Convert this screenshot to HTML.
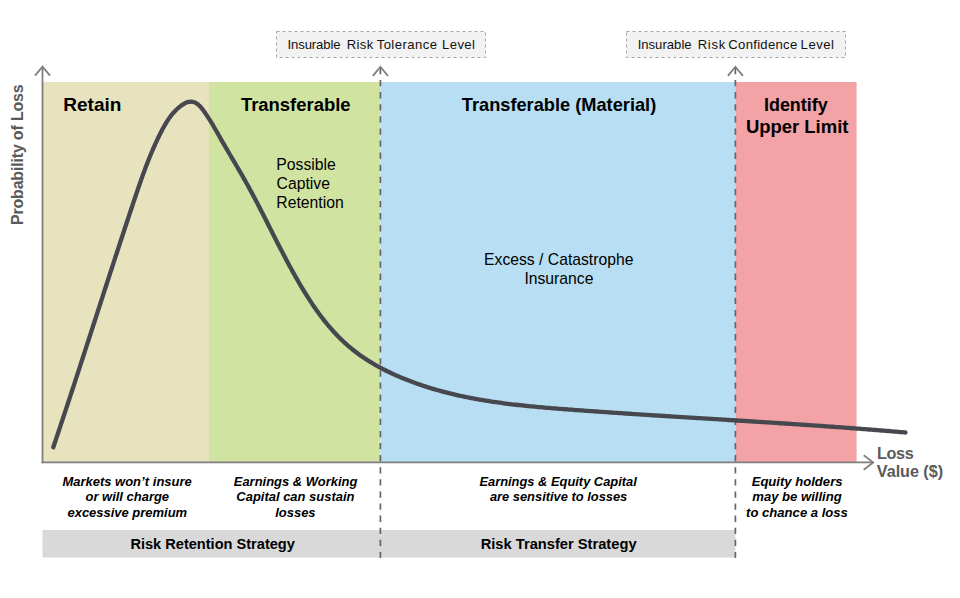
<!DOCTYPE html>
<html><head><meta charset="utf-8">
<style>
html,body{margin:0;padding:0;background:#fff;}
svg{display:block;font-family:"Liberation Sans",sans-serif;}
.b18{font-weight:bold;font-size:18px;fill:#000;}
.r15{font-size:15.7px;fill:#000;}
.bi{font-weight:bold;font-style:italic;font-size:13px;fill:#000;}
.b14{font-weight:bold;font-size:14.5px;fill:#000;}
.g15{font-weight:bold;font-size:15.5px;fill:#5a5a5a;}
.r13{font-size:13px;fill:#111;}
</style></head><body>
<svg width="960" height="598" viewBox="0 0 960 598">
<rect x="0" y="0" width="960" height="598" fill="#fff"/>
<rect x="43" y="82" width="166" height="380" fill="#e7e3bf"/>
<rect x="209" y="82" width="171.4" height="380" fill="#d0e3a1"/>
<rect x="380.4" y="82" width="355" height="380" fill="#b7def3"/>
<rect x="735.4" y="82" width="121.2" height="380" fill="#f3a2a6"/>
<rect x="42.5" y="530" width="692.9" height="27.5" fill="#d9d9d9"/>
<rect x="276.5" y="31.5" width="209" height="26" fill="#f2f2f2" stroke="#a6a6a6" stroke-width="1" stroke-dasharray="3 3"/>
<rect x="626.5" y="31.5" width="219" height="26" fill="#f2f2f2" stroke="#a6a6a6" stroke-width="1" stroke-dasharray="3 3"/>
<line x1="380.4" y1="67.9" x2="380.4" y2="558" stroke="#666666" stroke-width="1.7" stroke-dasharray="6.3 5.8"/>
<line x1="735.4" y1="67.9" x2="735.4" y2="558" stroke="#666666" stroke-width="1.7" stroke-dasharray="6.3 5.8"/>
<polyline points="372.9,75.9 380.4,66.8 387.9,75.9" fill="none" stroke="#7f7f7f" stroke-width="1.8"/>
<polyline points="727.9,75.9 735.4,66.8 742.9,75.9" fill="none" stroke="#7f7f7f" stroke-width="1.8"/>
<line x1="42.5" y1="66.5" x2="42.5" y2="463.3" stroke="#7f7f7f" stroke-width="1.8"/>
<line x1="41.6" y1="462.4" x2="873" y2="462.4" stroke="#7f7f7f" stroke-width="1.8"/>
<polyline points="35,75.6 42.5,66.6 50,75.6" fill="none" stroke="#7f7f7f" stroke-width="1.8"/>
<polyline points="863.7,455.2 873.2,462.4 863.7,469.8" fill="none" stroke="#7f7f7f" stroke-width="1.8"/>
<path d="M53.30,447.20 L53.96,445.24 L54.62,443.28 L55.28,441.32 L55.94,439.36 L56.59,437.40 L57.25,435.44 L57.91,433.48 L58.56,431.51 L59.22,429.55 L59.87,427.59 L60.53,425.63 L61.18,423.66 L61.83,421.70 L62.48,419.74 L63.13,417.77 L63.79,415.81 L64.44,413.84 L65.09,411.88 L65.74,409.91 L66.38,407.94 L67.03,405.98 L67.68,404.01 L68.33,402.05 L68.98,400.08 L69.62,398.11 L70.27,396.14 L70.91,394.18 L71.56,392.21 L72.20,390.24 L72.85,388.27 L73.49,386.30 L74.14,384.33 L74.78,382.36 L75.42,380.39 L76.07,378.43 L76.71,376.46 L77.35,374.49 L77.99,372.52 L78.63,370.55 L79.28,368.58 L79.92,366.60 L80.56,364.63 L81.20,362.66 L81.84,360.69 L82.48,358.72 L83.12,356.75 L83.76,354.78 L84.40,352.81 L85.04,350.84 L85.68,348.86 L86.31,346.89 L86.95,344.92 L87.59,342.95 L88.23,340.98 L88.87,339.00 L89.51,337.03 L90.14,335.06 L90.78,333.09 L91.42,331.12 L92.06,329.14 L92.70,327.17 L93.33,325.20 L93.97,323.23 L94.61,321.25 L95.25,319.28 L95.88,317.31 L96.52,315.34 L97.16,313.36 L97.80,311.39 L98.44,309.42 L99.07,307.45 L99.71,305.47 L100.35,303.50 L100.99,301.53 L101.63,299.56 L102.26,297.59 L102.90,295.61 L103.54,293.64 L104.18,291.67 L104.82,289.70 L105.46,287.73 L106.09,285.76 L106.73,283.78 L107.37,281.81 L108.01,279.84 L108.65,277.87 L109.29,275.90 L109.93,273.93 L110.57,271.96 L111.21,269.99 L111.85,268.02 L112.49,266.05 L113.14,264.08 L113.78,262.11 L114.42,260.14 L115.06,258.17 L115.70,256.20 L116.35,254.23 L116.99,252.26 L117.63,250.30 L118.28,248.33 L118.92,246.36 L119.57,244.39 L120.21,242.42 L120.86,240.46 L121.50,238.49 L122.15,236.52 L122.80,234.56 L123.44,232.59 L124.09,230.62 L124.74,228.66 L125.39,226.69 L126.04,224.73 L126.69,222.76 L127.34,220.80 L127.99,218.83 L128.64,216.87 L129.29,214.91 L129.94,212.94 L130.59,210.98 L131.25,209.02 L131.90,207.06 L132.55,205.10 L133.21,203.13 L133.87,201.17 L134.52,199.21 L135.18,197.25 L135.84,195.29 L136.50,193.34 L137.16,191.38 L137.82,189.42 L138.49,187.47 L139.16,185.51 L139.84,183.56 L140.52,181.61 L141.20,179.66 L141.89,177.71 L142.59,175.77 L143.29,173.82 L143.99,171.88 L144.71,169.95 L145.43,168.01 L146.16,166.08 L146.90,164.15 L147.64,162.22 L148.40,160.30 L149.16,158.38 L149.94,156.46 L150.72,154.55 L151.52,152.64 L152.33,150.74 L153.15,148.84 L153.98,146.94 L154.82,145.05 L155.68,143.17 L156.55,141.28 L157.43,139.41 L158.33,137.54 L159.24,135.67 L160.17,133.81 L161.11,131.95 L162.07,130.10 L163.05,128.26 L164.06,126.43 L165.09,124.62 L166.15,122.83 L167.25,121.06 L168.39,119.32 L169.58,117.62 L170.81,115.95 L172.10,114.32 L173.45,112.73 L174.86,111.20 L176.34,109.71 L177.89,108.28 L179.51,106.91 L181.22,105.61 L183.00,104.38 L184.85,103.29 L186.75,102.41 L188.66,101.80 L191.55,101.57 L194.36,102.25 L196.17,103.15 L197.88,104.33 L199.48,105.74 L200.95,107.33 L202.32,109.04 L203.62,110.80 L204.88,112.57 L206.10,114.35 L207.28,116.12 L208.44,117.89 L209.56,119.65 L210.66,121.42 L211.74,123.19 L212.80,124.95 L213.84,126.72 L214.87,128.48 L215.88,130.25 L216.89,132.01 L217.89,133.78 L218.89,135.54 L219.89,137.31 L220.89,139.07 L221.90,140.84 L222.92,142.61 L223.94,144.38 L224.97,146.15 L226.00,147.92 L227.04,149.69 L228.08,151.47 L229.13,153.24 L230.18,155.02 L231.23,156.80 L232.28,158.58 L233.34,160.36 L234.39,162.15 L235.45,163.93 L236.50,165.72 L237.55,167.51 L238.60,169.31 L239.65,171.10 L240.69,172.90 L241.73,174.70 L242.76,176.51 L243.79,178.31 L244.82,180.12 L245.83,181.94 L246.85,183.75 L247.85,185.57 L248.85,187.39 L249.84,189.22 L250.83,191.04 L251.82,192.87 L252.79,194.70 L253.77,196.53 L254.74,198.37 L255.71,200.20 L256.67,202.04 L257.63,203.88 L258.58,205.72 L259.54,207.56 L260.49,209.41 L261.43,211.25 L262.38,213.10 L263.32,214.94 L264.26,216.79 L265.20,218.64 L266.14,220.48 L267.08,222.33 L268.01,224.18 L268.95,226.03 L269.89,227.88 L270.82,229.73 L271.76,231.58 L272.69,233.43 L273.63,235.27 L274.57,237.12 L275.51,238.97 L276.45,240.81 L277.39,242.66 L278.33,244.50 L279.28,246.34 L280.23,248.19 L281.18,250.03 L282.13,251.86 L283.09,253.70 L284.05,255.54 L285.01,257.37 L285.98,259.20 L286.95,261.03 L287.93,262.86 L288.91,264.68 L289.89,266.50 L290.88,268.32 L291.88,270.14 L292.88,271.95 L293.89,273.76 L294.90,275.57 L295.92,277.38 L296.95,279.18 L297.98,280.98 L299.02,282.77 L300.07,284.56 L301.12,286.35 L302.18,288.13 L303.25,289.90 L304.33,291.68 L305.42,293.44 L306.52,295.20 L307.63,296.95 L308.74,298.69 L309.87,300.43 L311.01,302.16 L312.15,303.88 L313.31,305.59 L314.48,307.29 L315.66,308.99 L316.85,310.67 L318.05,312.35 L319.27,314.01 L320.50,315.66 L321.74,317.30 L322.99,318.93 L324.26,320.55 L325.54,322.15 L326.84,323.74 L328.15,325.32 L329.47,326.89 L330.81,328.44 L332.16,329.97 L333.53,331.49 L334.92,333.00 L336.32,334.49 L337.73,335.97 L339.17,337.42 L340.62,338.87 L342.08,340.29 L343.57,341.70 L345.07,343.09 L346.59,344.46 L348.13,345.81 L349.69,347.14 L351.26,348.46 L352.86,349.75 L354.47,351.02 L356.11,352.28 L357.76,353.51 L359.43,354.73 L361.11,355.92 L362.82,357.10 L364.54,358.25 L366.27,359.39 L368.02,360.51 L369.79,361.61 L371.57,362.69 L373.36,363.76 L375.17,364.80 L376.98,365.83 L378.81,366.84 L380.66,367.84 L382.51,368.81 L384.38,369.77 L386.25,370.72 L388.13,371.64 L390.03,372.55 L391.93,373.45 L393.84,374.33 L395.75,375.19 L397.68,376.04 L399.61,376.87 L401.54,377.68 L403.48,378.48 L405.43,379.27 L407.38,380.04 L409.33,380.80 L411.29,381.54 L413.25,382.27 L415.21,382.98 L417.18,383.69 L419.15,384.37 L421.12,385.05 L423.09,385.71 L425.06,386.36 L427.04,386.99 L429.02,387.61 L431.00,388.22 L432.99,388.82 L434.98,389.41 L436.97,389.98 L438.96,390.54 L440.95,391.09 L442.95,391.63 L444.95,392.15 L446.95,392.67 L448.95,393.17 L450.95,393.67 L452.96,394.15 L454.97,394.62 L456.98,395.09 L458.99,395.54 L461.01,395.98 L463.02,396.41 L465.04,396.84 L467.06,397.25 L469.08,397.65 L471.10,398.05 L473.13,398.43 L475.16,398.81 L477.18,399.18 L479.21,399.54 L481.24,399.89 L483.28,400.23 L485.31,400.57 L487.35,400.90 L489.38,401.22 L491.42,401.53 L493.46,401.83 L495.50,402.13 L497.55,402.42 L499.59,402.71 L501.63,402.98 L503.68,403.26 L505.73,403.52 L507.78,403.78 L509.83,404.03 L511.88,404.28 L513.93,404.52 L515.98,404.76 L518.03,404.99 L520.09,405.22 L522.14,405.44 L524.20,405.65 L526.25,405.87 L528.31,406.07 L530.37,406.28 L532.43,406.48 L534.49,406.67 L536.55,406.86 L538.61,407.05 L540.67,407.23 L542.73,407.42 L544.80,407.59 L546.86,407.77 L548.92,407.94 L550.99,408.11 L553.05,408.28 L555.12,408.45 L557.18,408.61 L559.25,408.77 L561.31,408.93 L563.38,409.09 L565.44,409.25 L567.51,409.40 L569.58,409.56 L571.64,409.71 L573.71,409.87 L575.77,410.02 L577.84,410.17 L579.91,410.32 L581.97,410.47 L584.04,410.62 L586.11,410.77 L588.17,410.92 L590.24,411.07 L592.31,411.22 L594.37,411.36 L596.44,411.51 L598.51,411.65 L600.57,411.80 L602.64,411.94 L604.71,412.08 L606.78,412.23 L608.84,412.37 L610.91,412.51 L612.98,412.65 L615.05,412.79 L617.11,412.93 L619.18,413.07 L621.25,413.21 L623.31,413.34 L625.38,413.48 L627.45,413.62 L629.52,413.75 L631.59,413.89 L633.65,414.03 L635.72,414.16 L637.79,414.30 L639.86,414.43 L641.92,414.56 L643.99,414.70 L646.06,414.83 L648.13,414.96 L650.20,415.10 L652.26,415.23 L654.33,415.36 L656.40,415.49 L658.47,415.62 L660.54,415.75 L662.60,415.88 L664.67,416.01 L666.74,416.14 L668.81,416.27 L670.88,416.40 L672.94,416.53 L675.01,416.66 L677.08,416.79 L679.15,416.92 L681.22,417.05 L683.29,417.17 L685.35,417.30 L687.42,417.43 L689.49,417.56 L691.56,417.69 L693.63,417.81 L695.69,417.94 L697.76,418.07 L699.83,418.20 L701.90,418.32 L703.97,418.45 L706.04,418.58 L708.10,418.70 L710.17,418.83 L712.24,418.96 L714.31,419.09 L716.38,419.21 L718.44,419.34 L720.51,419.47 L722.58,419.59 L724.65,419.72 L726.72,419.85 L728.78,419.98 L730.85,420.10 L732.92,420.23 L734.99,420.36 L737.06,420.49 L739.12,420.62 L741.19,420.74 L743.26,420.87 L745.33,421.00 L747.40,421.13 L749.46,421.26 L751.53,421.39 L753.60,421.52 L755.67,421.65 L757.73,421.78 L759.80,421.91 L761.87,422.04 L763.94,422.17 L766.00,422.30 L768.07,422.43 L770.14,422.57 L772.21,422.70 L774.27,422.83 L776.34,422.96 L778.41,423.10 L780.48,423.23 L782.54,423.36 L784.61,423.50 L786.68,423.63 L788.74,423.77 L790.81,423.90 L792.88,424.04 L794.94,424.18 L797.01,424.31 L799.08,424.45 L801.14,424.59 L803.21,424.73 L805.28,424.87 L807.34,425.01 L809.41,425.15 L811.48,425.29 L813.54,425.43 L815.61,425.57 L817.67,425.72 L819.74,425.86 L821.81,426.00 L823.87,426.15 L825.94,426.29 L828.00,426.44 L830.07,426.59 L832.13,426.73 L834.20,426.88 L836.26,427.03 L838.33,427.18 L840.40,427.33 L842.46,427.48 L844.53,427.63 L846.59,427.78 L848.66,427.94 L850.72,428.09 L852.78,428.25 L854.85,428.40 L856.91,428.56 L858.98,428.71 L861.04,428.87 L863.11,429.03 L865.17,429.19 L867.23,429.35 L869.30,429.51 L871.36,429.68 L873.43,429.84 L875.49,430.00 L877.55,430.17 L879.62,430.34 L881.68,430.50 L883.74,430.67 L885.81,430.84 L887.87,431.01 L889.93,431.18 L891.99,431.35 L894.06,431.53 L896.12,431.70 L898.18,431.88 L900.24,432.05 L902.31,432.23 L904.37,432.41 L905.40,432.50" fill="none" stroke="#47474f" stroke-width="4.3" stroke-linecap="round" stroke-linejoin="round"/>
<text id="bx1a" class="r13" x="287.48" y="48.8" style="font-size:13.1px;letter-spacing:-0.097px">Insurable</text>
<text id="bx1b" class="r13" x="346.81" y="48.8" style="font-size:13.1px;letter-spacing:0.344px">Risk</text>
<text id="bx1c" class="r13" x="376.65" y="48.8" style="font-size:13.1px;letter-spacing:0.451px">Tolerance</text>
<text id="bx1d" class="r13" x="442.12" y="48.8" style="font-size:13.1px;letter-spacing:0.354px">Level</text>
<text id="bx2a" class="r13" x="637.63" y="48.8" style="font-size:13.1px;letter-spacing:0.011px">Insurable</text>
<text id="bx2b" class="r13" x="697.75" y="48.8" style="font-size:13.1px;letter-spacing:0.667px">Risk</text>
<text id="bx2c" class="r13" x="728.32" y="48.8" style="font-size:13.1px;letter-spacing:0.297px">Confidence</text>
<text id="bx2d" class="r13" x="800.59" y="48.8" style="font-size:13.1px;letter-spacing:0.515px">Level</text>
<text id="retain" class="b18" x="63.31" y="110.8" style="font-size:19.05px">Retain</text>
<text id="transf" class="b18" x="295.76" y="110.8" text-anchor="middle" style="font-size:18.47px">Transferable</text>
<text id="transm" class="b18" x="559.03" y="111.1" text-anchor="middle" style="font-size:18.23px">Transferable (Material)</text>
<text id="ident" class="b18" x="795.82" y="110.8" text-anchor="middle" style="font-size:17.9px">Identify</text>
<text id="upper" class="b18" x="797.17" y="133.2" text-anchor="middle" style="font-size:18.47px">Upper Limit</text>
<text id="poss" class="r15" x="276.33" y="169.6" style="font-size:15.74px">Possible</text>
<text id="capt" class="r15" x="276.55" y="188.6" style="font-size:15.74px">Captive</text>
<text id="rete" class="r15" x="276.33" y="207.7" style="font-size:15.74px">Retention</text>
<text id="exc" class="r15" x="558.75" y="264.8" text-anchor="middle" style="font-size:15.72px">Excess / Catastrophe</text>
<text id="ins" class="r15" x="558.9" y="284.1" text-anchor="middle" style="font-size:15.72px">Insurance</text>
<text id="prob" class="g15" transform="translate(23.0,154.8) rotate(-90)" text-anchor="middle" style="font-size:16px;letter-spacing:-0.18px">Probability of Loss</text>
<text id="loss" class="g15" x="876.94" y="458.6" style="font-size:16.2px;letter-spacing:-0.35px">Loss</text>
<text id="value" class="g15" x="876.86" y="477.4" style="font-size:16.2px;letter-spacing:-0.05px">Value ($)</text>
<text id="m1" class="bi" x="127.09" y="485.9" text-anchor="middle" style="font-size:12.98px">Markets won’t insure</text>
<text id="m2" class="bi" x="127.3" y="501.4" text-anchor="middle" style="font-size:12.98px">or will charge</text>
<text id="m3" class="bi" x="127.3" y="516.9" text-anchor="middle" style="font-size:12.98px">excessive premium</text>
<text id="w1" class="bi" x="295.59" y="485.9" text-anchor="middle" style="font-size:12.98px">Earnings &amp; Working</text>
<text id="w2" class="bi" x="295.4" y="501.4" text-anchor="middle" style="font-size:12.98px">Capital can sustain</text>
<text id="w3" class="bi" x="295.4" y="516.9" text-anchor="middle" style="font-size:12.98px">losses</text>
<text id="e1" class="bi" x="558.11" y="485.9" text-anchor="middle" style="font-size:12.89px">Earnings &amp; Equity Capital</text>
<text id="e2" class="bi" x="558.6" y="501.4" text-anchor="middle" style="font-size:12.89px">are sensitive to losses</text>
<text id="h1" class="bi" x="797.09" y="485.9" text-anchor="middle" style="font-size:13.09px">Equity holders</text>
<text id="h2" class="bi" x="797" y="501.4" text-anchor="middle" style="font-size:13.09px">may be willing</text>
<text id="h3" class="bi" x="797" y="516.9" text-anchor="middle" style="font-size:13.09px">to chance a loss</text>
<text id="rrs" class="b14" x="212.65" y="549.4" text-anchor="middle" style="font-size:14.59px">Risk Retention Strategy</text>
<text id="rts" class="b14" x="558.62" y="549.4" text-anchor="middle" style="font-size:14.69px">Risk Transfer Strategy</text>
</svg>
</body></html>
